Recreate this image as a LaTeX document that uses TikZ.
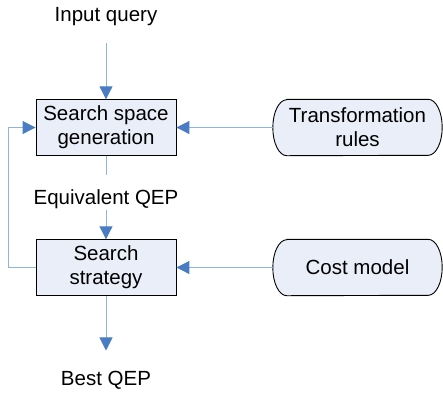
\documentclass[tikz,border=0pt]{standalone}
\usepackage{fontspec}
\setmainfont{Liberation Sans}
\usetikzlibrary{arrows.meta,backgrounds}
\definecolor{boxfill}{HTML}{E9EEF8}
\definecolor{linecol}{HTML}{8EB4E3}
\definecolor{tipcol}{HTML}{4A7CC4}
\tikzset{
  lbl/.style={inner sep=0pt, font=\fontsize{20.5}{24}\selectfont, align=center},
  procbox/.style={lbl, draw=black, line width=0.9pt, fill=boxfill, minimum width=140pt, minimum height=55.5pt},
  rulebox/.style={lbl, minimum width=169pt, minimum height=56pt},
  capsule/.style={draw=black, line width=0.9pt, fill=boxfill},
  conn/.style={draw=linecol, line width=1pt},
  arr/.style={conn, -{Triangle[length=13pt,width=13pt,color=tipcol]}},
}
\newcommand{\capsuleoutline}[1]{%
  \begin{scope}[on background layer]
  \draw[capsule] ([xshift=14pt]#1.north west) -- ([xshift=-14pt]#1.north east)
    arc[start angle=90,end angle=-90,x radius=14pt,y radius=28pt]
    -- ([xshift=14pt]#1.south west)
    arc[start angle=270,end angle=90,x radius=14pt,y radius=28pt] -- cycle;
  \end{scope}}
\begin{document}
\begin{tikzpicture}[x=1pt,y=-1pt]
\useasboundingbox (0,0) rectangle (443,392);
\node[procbox] (box1) at (106,127.5) {Search space\\generation};
\node[procbox] (box2) at (106,267.5) {Search\\strategy};
\node[rulebox] (trans) at (357.5,127.5) {Transformation\\rules};
\node[rulebox] (cost) at (357.5,267.5) {Cost model};
\capsuleoutline{trans}
\capsuleoutline{cost}
\node[lbl, anchor=base] (input) at (106,21.7) {Input query};
\node[lbl, anchor=base] (eqv) at (106,204) {Equivalent QEP};
\node[lbl, anchor=base] (best) at (106,385) {Best QEP};
\draw[arr] ([yshift=-17pt]input.south) -- (box1.north);
\draw[conn] (box1.south) -- ([yshift=14pt]eqv.north);
\draw[arr] ([yshift=-2pt]eqv.south) -- (box2.north);
\draw[arr] (box2.south) -- ([yshift=20pt]best.north);
\draw[arr] (box2.west) -- ++(-27,0) |- (box1.west);
\draw[arr] (trans.west) -- (box1.east);
\draw[arr] (cost.west) -- (box2.east);
\end{tikzpicture}
\end{document}
